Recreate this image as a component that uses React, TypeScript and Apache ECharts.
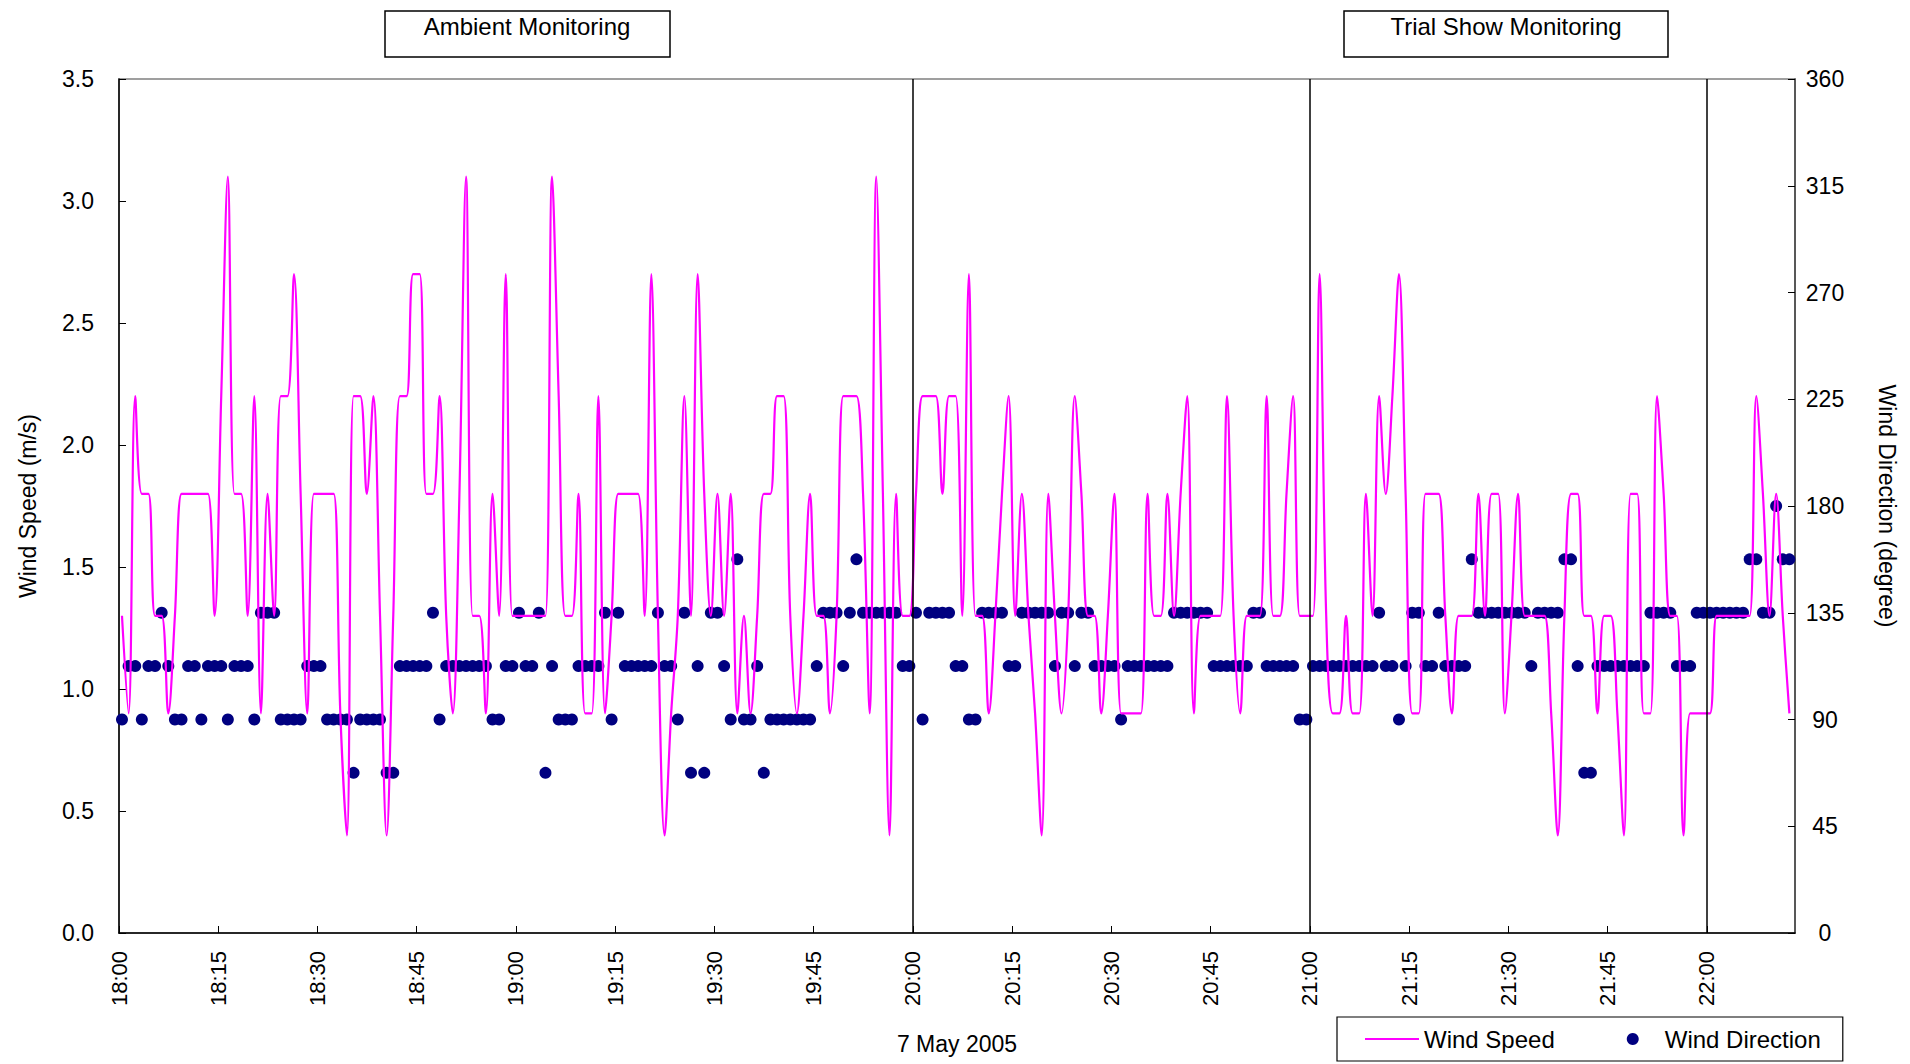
import React, { useEffect, useRef } from "react";
import * as echarts from "echarts";

// ---- data (one sample per minute starting 18:00) ----
const startHour = 18;
const sampleOffset = 0.45; // minutes after the axis start of the first sample

// Wind speed (m/s)
const windSpeed: number[] = [
  1.3, 0.9, 2.2, 1.8, 1.8, 1.3, 1.3, 0.9, 1.3, 1.8,
  1.8, 1.8, 1.8, 1.8, 1.3, 2.2, 3.1, 1.8, 1.8, 1.3,
  2.2, 0.9, 1.8, 1.3, 2.2, 2.2, 2.7, 1.8, 0.9, 1.8,
  1.8, 1.8, 1.8, 0.9, 0.4, 2.2, 2.2, 1.8, 2.2, 1.3,
  0.4, 1.3, 2.2, 2.2, 2.7, 2.7, 1.8, 1.8, 2.2, 1.3,
  0.9, 1.8, 3.1, 1.3, 1.3, 0.9, 1.8, 1.3, 2.7, 1.3,
  1.3, 1.3, 1.3, 1.3, 1.3, 3.1, 2.2, 1.3, 1.3, 1.8,
  0.9, 0.9, 2.2, 0.9, 1.3, 1.8, 1.8, 1.8, 1.8, 1.3,
  2.7, 1.3, 0.4, 0.9, 1.3, 2.2, 1.3, 2.7, 1.8, 1.3,
  1.8, 1.3, 1.8, 0.9, 1.3, 0.9, 1.3, 1.8, 1.8, 2.2,
  2.2, 1.3, 0.9, 1.3, 1.8, 1.3, 1.3, 0.9, 1.3, 2.2,
  2.2, 2.2, 1.8, 0.9, 3.1, 1.8, 0.4, 1.8, 1.3, 1.3,
  1.8, 2.2, 2.2, 2.2, 1.8, 2.2, 2.2, 1.3, 2.7, 1.3,
  1.3, 0.9, 1.3, 1.8, 2.2, 1.3, 1.8, 1.3, 0.9, 0.4,
  1.8, 1.3, 0.9, 1.3, 2.2, 1.8, 1.3, 1.3, 0.9, 1.3,
  1.8, 0.9, 0.9, 0.9, 0.9, 1.8, 1.3, 1.3, 1.8, 1.3,
  1.8, 2.2, 0.9, 1.3, 1.3, 1.3, 1.3, 2.2, 1.3, 0.9,
  1.3, 1.3, 1.3, 2.2, 1.3, 1.3, 1.8, 2.2, 1.3, 1.3,
  1.3, 2.7, 1.3, 0.9, 0.9, 1.3, 0.9, 0.9, 1.8, 1.3,
  2.2, 1.8, 2.2, 2.7, 1.8, 0.9, 0.9, 1.8, 1.8, 1.8,
  1.3, 0.9, 1.3, 1.3, 1.3, 1.8, 1.3, 1.8, 1.8, 0.9,
  1.3, 1.8, 1.3, 1.3, 1.3, 1.3, 0.9, 0.4, 1.3, 1.8,
  1.8, 1.3, 1.3, 0.9, 1.3, 1.3, 0.9, 0.4, 1.8, 1.8,
  0.9, 0.9, 2.2, 1.8, 1.3, 1.3, 0.4, 0.9, 0.9, 0.9,
  0.9, 1.3, 1.3, 1.3, 1.3, 1.3, 1.3, 2.2, 1.8, 1.3,
  1.8, 1.3, 0.9,
];

// Wind direction (degree)
const windDirection: number[] = [
  90, 112.5, 112.5, 90, 112.5, 112.5, 135, 112.5, 90, 90,
  112.5, 112.5, 90, 112.5, 112.5, 112.5, 90, 112.5, 112.5, 112.5,
  90, 135, 135, 135, 90, 90, 90, 90, 112.5, 112.5,
  112.5, 90, 90, 90, 90, 67.5, 90, 90, 90, 90,
  67.5, 67.5, 112.5, 112.5, 112.5, 112.5, 112.5, 135, 90, 112.5,
  112.5, 112.5, 112.5, 112.5, 112.5, 112.5, 90, 90, 112.5, 112.5,
  135, 112.5, 112.5, 135, 67.5, 112.5, 90, 90, 90, 112.5,
  112.5, 112.5, 112.5, 135, 90, 135, 112.5, 112.5, 112.5, 112.5,
  112.5, 135, 112.5, 112.5, 90, 135, 67.5, 112.5, 67.5, 135,
  135, 112.5, 90, 157.5, 90, 90, 112.5, 67.5, 90, 90,
  90, 90, 90, 90, 90, 112.5, 135, 135, 135, 112.5,
  135, 157.5, 135, 135, 135, 135, 135, 135, 112.5, 112.5,
  135, 90, 135, 135, 135, 135, 112.5, 112.5, 90, 90,
  135, 135, 135, 135, 112.5, 112.5, 135, 135, 135, 135,
  135, 112.5, 135, 135, 112.5, 135, 135, 112.5, 112.5, 112.5,
  112.5, 90, 112.5, 112.5, 112.5, 112.5, 112.5, 112.5, 112.5, 135,
  135, 135, 135, 135, 135, 112.5, 112.5, 112.5, 112.5, 112.5,
  112.5, 135, 135, 112.5, 112.5, 112.5, 112.5, 112.5, 90, 90,
  112.5, 112.5, 112.5, 112.5, 112.5, 112.5, 112.5, 112.5, 112.5, 112.5,
  135, 112.5, 112.5, 90, 112.5, 135, 135, 112.5, 112.5, 135,
  112.5, 112.5, 112.5, 112.5, 157.5, 135, 135, 135, 135, 135,
  135, 135, 135, 112.5, 135, 135, 135, 135, 157.5, 157.5,
  112.5, 67.5, 67.5, 112.5, 112.5, 112.5, 112.5, 112.5, 112.5, 112.5,
  112.5, 135, 135, 135, 135, 112.5, 112.5, 112.5, 135, 135,
  135, 135, 135, 135, 135, 135, 157.5, 157.5, 135, 135,
  180, 157.5, 157.5,
];

// Period boundaries (minutes after 18:00): 20:00, 21:00, 22:00
const boundaryMinutes = [120, 180, 240];
const periodLabels = ["Ambient Monitoring", "Trial Show Monitoring"];
const xAxisTitle = "7 May 2005";
const leftAxisTitle = "Wind Speed (m/s)";
const rightAxisTitle = "Wind Direction (degree)";

const FONT = '"Liberation Sans", Arial, Helvetica, sans-serif';

function minuteLabel(m: number): string {
  const total = Math.round(m);
  const h = startHour + Math.floor(total / 60);
  const mm = total % 60;
  return `${h}:${mm < 10 ? "0" + mm : mm}`;
}

export default function App() {
  const ref = useRef<HTMLDivElement>(null);

  useEffect(() => {
    if (!ref.current) return;
    const chart = echarts.init(ref.current, undefined, { renderer: "svg" });

    const speedData = windSpeed.map((v, i) => [sampleOffset + i, v]);
    const dirData = windDirection.map((v, i) => [sampleOffset + i, v]);

    const option: any = {
      animation: false,
      backgroundColor: "#ffffff",
      textStyle: { fontFamily: FONT, color: "#000" },
      grid: {
        left: 119,
        top: 79,
        width: 1676,
        height: 854,
        show: true,
        borderColor: "#808080",
        borderWidth: 1.5,
        backgroundColor: "transparent",
      },
      legend: {
        left: 1337,
        top: 1017,
        orient: "horizontal",
        padding: [10, 22, 10, 28],
        itemGap: 72,
        itemWidth: 54,
        itemHeight: 12,
        symbolKeepAspect: true,
        borderColor: "#000",
        borderWidth: 1.2,
        textStyle: { fontSize: 24, color: "#000", fontFamily: FONT },
        data: [
          { name: "Wind Speed", icon: "path://M0,0 L54,0 L54,2 L0,2 Z" },
          { name: "Wind Direction", icon: "circle" },
        ],
      },
      xAxis: {
        type: "value",
        min: 0,
        max: 253.3,
        interval: 15,
        name: xAxisTitle,
        nameLocation: "middle",
        nameGap: 99,
        nameTextStyle: { fontSize: 23, color: "#000", fontFamily: FONT },
        axisLine: { show: true, onZero: false, lineStyle: { color: "#000", width: 1.5 } },
        axisTick: { show: true, inside: true, length: 7, lineStyle: { color: "#000", width: 1 } },
        axisLabel: {
          rotate: 90,
          margin: 18,
          fontSize: 22,
          color: "#000",
          fontFamily: FONT,
          showMaxLabel: false,
          formatter: (v: number) => minuteLabel(v),
        },
        splitLine: { show: false },
      },
      yAxis: [
        {
          type: "value",
          position: "left",
          min: 0,
          max: 3.5,
          interval: 0.5,
          name: leftAxisTitle,
          nameLocation: "middle",
          nameGap: 80,
          nameTextStyle: { fontSize: 23, color: "#000", fontFamily: FONT },
          axisLine: { show: true, onZero: false, lineStyle: { color: "#000", width: 1.5 } },
          axisTick: { show: true, inside: true, length: 7, lineStyle: { color: "#000", width: 1 } },
          axisLabel: {
            margin: 25,
            fontSize: 23,
            color: "#000",
            fontFamily: FONT,
            formatter: (v: number) => v.toFixed(1),
          },
          splitLine: { show: false },
        },
        {
          type: "value",
          position: "right",
          min: 0,
          max: 360,
          interval: 45,
          name: rightAxisTitle,
          nameLocation: "middle",
          nameRotate: -90,
          nameGap: 80,
          nameTextStyle: { fontSize: 23, color: "#000", fontFamily: FONT },
          axisLine: { show: true, onZero: false, lineStyle: { color: "#404040", width: 1.5 } },
          axisTick: { show: true, inside: true, length: 7, lineStyle: { color: "#000", width: 1 } },
          axisLabel: {
            margin: 30,
            align: "center",
            fontSize: 23,
            color: "#000",
            fontFamily: FONT,
          },
          splitLine: { show: false },
        },
      ],
      graphic: [
        {
          type: "rect",
          shape: { x: 385, y: 11, width: 285, height: 46 },
          style: { fill: "#fff", stroke: "#000", lineWidth: 1.5 },
        },
        {
          type: "text",
          x: 527,
          y: 26,
          style: {
            text: periodLabels[0],
            fontSize: 24,
            fontFamily: FONT,
            fill: "#000",
            align: "center",
            verticalAlign: "middle",
            textAlign: "center",
            textVerticalAlign: "middle",
          },
        },
        {
          type: "rect",
          shape: { x: 1344, y: 11, width: 324, height: 46 },
          style: { fill: "#fff", stroke: "#000", lineWidth: 1.5 },
        },
        {
          type: "text",
          x: 1506,
          y: 26,
          style: {
            text: periodLabels[1],
            fontSize: 24,
            fontFamily: FONT,
            fill: "#000",
            align: "center",
            verticalAlign: "middle",
            textAlign: "center",
            textVerticalAlign: "middle",
          },
        },
      ],
      series: [
        {
          name: "Wind Speed",
          type: "line",
          data: speedData,
          smooth: 0.35,
          symbol: "none",
          lineStyle: { color: "#FF00FF", width: 2.2 },
          itemStyle: { color: "#FF00FF" },
          markLine: {
            silent: true,
            symbol: ["none", "none"],
            label: { show: false },
            lineStyle: { color: "#000", width: 1.5, type: "solid" },
            data: boundaryMinutes.map((m) => ({ xAxis: m })),
          },
        },
        {
          name: "Wind Direction",
          type: "scatter",
          yAxisIndex: 1,
          data: dirData,
          symbol: "circle",
          symbolSize: 12,
          itemStyle: { color: "#000080", opacity: 1 },
        },
      ],
    };

    chart.setOption(option);
    return () => {
      chart.dispose();
    };
  }, []);

  return (
    <div
      ref={ref}
      style={{
        position: "fixed",
        left: 0,
        top: 0,
        width: 1910,
        height: 1064,
        background: "#fff",
      }}
    />
  );
}
